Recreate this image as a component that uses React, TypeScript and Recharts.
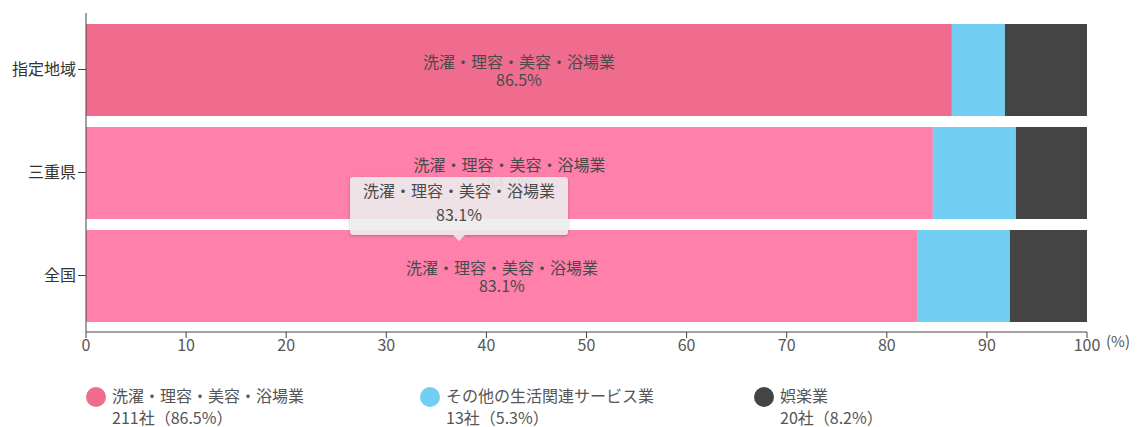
import React from 'react';
import { BarChart, Bar, XAxis, YAxis, Tooltip, LabelList, Cell, Label } from 'recharts';

const categories = ['指定地域', '三重県', '全国'];
const seriesNames = ['洗濯・理容・美容・浴場業', 'その他の生活関連サービス業', '娯楽業'];
const laundryShare = [86.5, 84.6, 83.1];
const otherServiceShare = [5.3, 8.3, 9.2];
const entertainmentShare = [8.2, 7.1, 7.7];
const legendCounts = ['211社（86.5%）', '13社（5.3%）', '20社（8.2%）'];
const xTicks = [0, 10, 20, 30, 40, 50, 60, 70, 80, 90, 100];

const seriesColors = ['#FF80AB', '#73CEF4', '#444444'];
const highlightColor = '#F06C8F';
const legendColors = [highlightColor, '#73CEF4', '#444444'];
const fontFamily = "'Noto Sans CJK JP', 'Noto Sans', sans-serif";

const chartData = categories.map((name, i) => ({
  name,
  s0: laundryShare[i],
  s1: otherServiceShare[i],
  s2: entertainmentShare[i],
}));

const BarText = (props: any) => {
  const { x, y, width, height, value } = props;
  const cx = Number(x) + Number(width) / 2;
  const cy = Number(y) + Number(height) / 2;
  return (
    <text x={cx} y={cy} textAnchor="middle" fontSize={16} fill="#4a4a4a" fontFamily={fontFamily}>
      <tspan x={cx} dy={-2}>{seriesNames[0]}</tspan>
      <tspan x={cx} dy={18}>{value}%</tspan>
    </text>
  );
};

const TipBox = ({ payload }: any) => {
  if (!payload || !payload.length) return null;
  const item = payload[0];
  const bg = 'rgba(236,236,236,0.9)';
  return (
    <div
      style={{
        position: 'relative',
        width: 218,
        height: 58,
        background: bg,
        borderRadius: 3,
        boxShadow: '0 1px 3px rgba(0,0,0,0.25)',
        textAlign: 'center',
        fontSize: 16,
        color: '#4a4a4a',
        lineHeight: '24px',
        paddingTop: 1,
        boxSizing: 'border-box',
        fontFamily,
      }}
    >
      <div>{item.name}</div>
      <div>{item.value}%</div>
      <div
        style={{
          position: 'absolute',
          left: 103,
          bottom: -6,
          width: 0,
          height: 0,
          borderLeft: '6px solid transparent',
          borderRight: '6px solid transparent',
          borderTop: `6px solid ${bg}`,
        }}
      />
    </div>
  );
};

const PercentUnit = (props: any) => {
  const vb = props.viewBox;
  return (
    <text x={vb.x + vb.width + 19} y={vb.y + 15} fontSize={15} fill="#555" fontFamily={fontFamily}>
      (%)
    </text>
  );
};

export default function App() {
  return (
    <div style={{ position: 'absolute', left: 0, top: 0, width: 1139, height: 427, background: '#fff', fontFamily }}>
      <BarChart
        width={1139}
        height={365}
        data={chartData}
        layout="vertical"
        margin={{ top: 13, right: 52, bottom: 3, left: 0 }}
      >
        <XAxis
          type="number"
          domain={[0, 100]}
          ticks={xTicks}
          tickSize={6}
          stroke="#444"
          tick={{ fill: '#555', fontSize: 16 }}
          height={30}
        >
          <Label content={<PercentUnit />} />
        </XAxis>
        <YAxis
          type="category"
          dataKey="name"
          width={86}
          tickSize={8}
          stroke="#444"
          tick={{ fill: '#333', fontSize: 16 }}
          padding={{ top: 5, bottom: 5 }}
        />
        <YAxis
          yAxisId="frame"
          type="number"
          domain={[0, 1]}
          ticks={[0, 1]}
          width={0}
          tick={false}
          axisLine={false}
          tickSize={8}
          stroke="#444"
        />
        <Tooltip
          defaultIndex={2}
          cursor={false}
          isAnimationActive={false}
          position={{ x: 350, y: 177 }}
          content={<TipBox />}
          wrapperStyle={{ outline: 'none' }}
        />
        <Bar dataKey="s0" name={seriesNames[0]} stackId="a" barSize={92} fill={seriesColors[0]} isAnimationActive={false}>
          {chartData.map((d, i) => (
            <Cell key={d.name} fill={i === 0 ? highlightColor : seriesColors[0]} />
          ))}
          <LabelList dataKey="s0" content={<BarText />} />
        </Bar>
        <Bar dataKey="s1" name={seriesNames[1]} stackId="a" barSize={92} fill={seriesColors[1]} isAnimationActive={false} />
        <Bar dataKey="s2" name={seriesNames[2]} stackId="a" barSize={92} fill={seriesColors[2]} isAnimationActive={false} />
      </BarChart>
      {seriesNames.map((name, i) => (
        <div
          key={name}
          style={{
            position: 'absolute',
            left: 86 + i * 334,
            top: 384,
            display: 'flex',
            alignItems: 'flex-start',
            fontSize: 16,
            lineHeight: '22px',
            color: '#555',
          }}
        >
          <div style={{ width: 20, height: 20, borderRadius: 10, background: legendColors[i], marginTop: 3, marginRight: 6 }} />
          <div>
            <div>{name}</div>
            <div>{legendCounts[i]}</div>
          </div>
        </div>
      ))}
    </div>
  );
}
